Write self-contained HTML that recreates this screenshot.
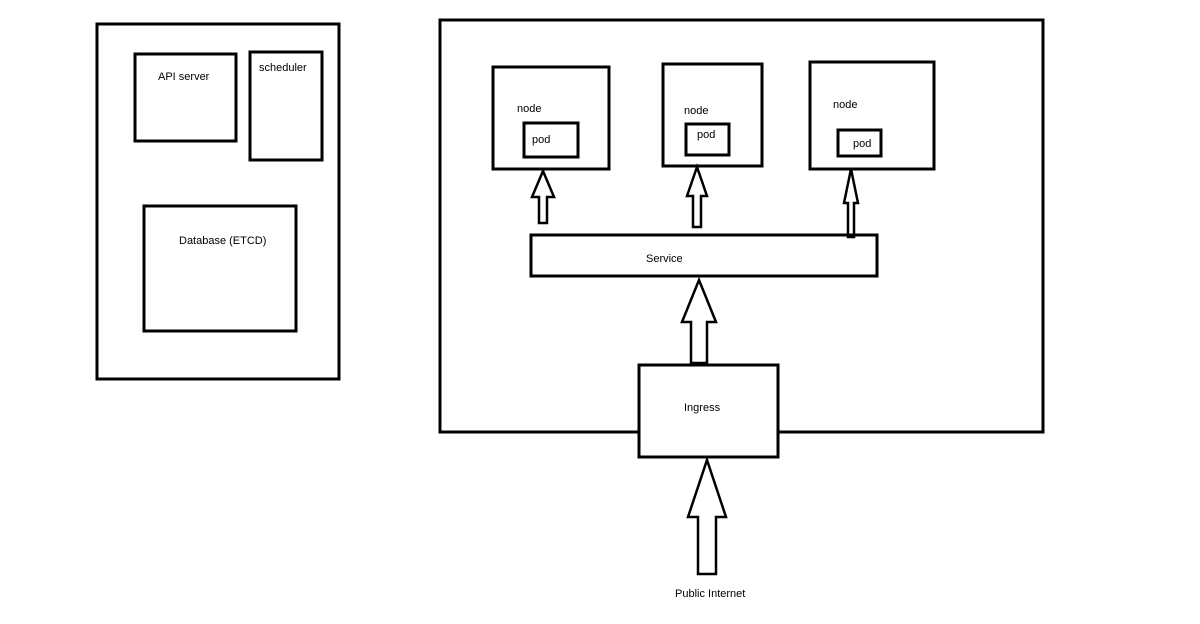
<!DOCTYPE html>
<html><head><style>body{margin:0;background:#fff}svg{display:block}text{font-family:"Liberation Sans",sans-serif;font-size:11px;fill:#000}</style></head><body>
<svg width="1200" height="624" viewBox="0 0 1200 624">
<g fill="none" stroke="#000" stroke-width="3">
<rect x="97" y="24" width="242" height="355"/>
<rect x="135" y="54" width="101" height="87"/>
<rect x="250" y="52" width="72" height="108"/>
<rect x="144" y="206" width="152" height="125"/>
<rect x="440" y="20" width="603" height="412"/>
<rect x="493" y="67" width="116" height="102"/>
<rect x="663" y="64" width="99" height="102"/>
<rect x="810" y="62" width="124" height="107"/>
<rect x="524" y="123" width="54" height="34"/>
<rect x="686" y="124" width="43" height="31"/>
<rect x="838" y="130" width="43" height="26"/>
<rect x="531" y="235" width="346" height="41" fill="#fff"/>
<rect x="639" y="365" width="139" height="92" fill="#fff"/>
<path d="M543 171 L554 197 L547 197 L547 223 L539 223 L539 197 L532 197 Z" stroke-width="2.5"/>
<path d="M697 167 L707 196 L701 196 L701 227 L693 227 L693 196 L687 196 Z" stroke-width="2.5"/>
<path d="M851 169 L858 203 L854 203 L854 237 L848 237 L848 203 L844 203 Z" stroke-width="2.5"/>
<path d="M699 280 L716 322 L707 322 L707 363 L691 363 L691 322 L682 322 Z" stroke-width="2.5"/>
<path d="M707 460 L726 517 L716 517 L716 574 L698 574 L698 517 L688 517 Z" stroke-width="2.5"/>
</g>
<text x="158" y="80">API server</text>
<text x="259" y="71">scheduler</text>
<text x="179" y="244">Database (ETCD)</text>
<text x="517" y="112">node</text>
<text x="684" y="114">node</text>
<text x="833" y="108">node</text>
<text x="532" y="143">pod</text>
<text x="697" y="138">pod</text>
<text x="853" y="147">pod</text>
<text x="646" y="262">Service</text>
<text x="684" y="411">Ingress</text>
<text x="675" y="597">Public Internet</text>
</svg>
</body></html>
